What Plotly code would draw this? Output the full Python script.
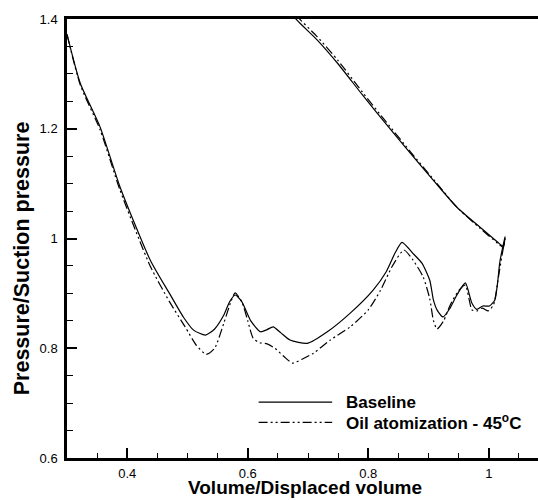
import plotly.graph_objects as go

# Baseline: suction/re-expansion branch (left to right), then compression branch (right to left)
base_x = [0.300, 0.322, 0.355, 0.388, 0.438, 0.470, 0.493, 0.510, 0.530, 0.545, 0.560, 0.570,
          0.579, 0.590, 0.605, 0.621, 0.632, 0.642, 0.655, 0.670, 0.699, 0.732, 0.770, 0.808,
          0.830, 0.845, 0.856, 0.874, 0.889, 0.902, 0.908, 0.914, 0.924, 0.935, 0.947, 0.961,
          0.972, 0.980, 0.990, 1.001, 1.010, 1.015, 1.018, 1.023, 1.027,
          1.024, 1.015, 0.985, 0.947, 0.908, 0.870, 0.830, 0.790, 0.750, 0.715, 0.680, 0.660]
base_y = [1.372, 1.283, 1.203, 1.094, 0.961, 0.900, 0.857, 0.833, 0.824, 0.835, 0.860, 0.885,
          0.897, 0.885, 0.850, 0.830, 0.834, 0.839, 0.828, 0.815, 0.809, 0.830, 0.864, 0.906,
          0.940, 0.975, 0.993, 0.973, 0.955, 0.924, 0.888, 0.870, 0.857, 0.872, 0.897, 0.919,
          0.882, 0.871, 0.877, 0.877, 0.888, 0.924, 0.955, 0.984, 1.003,
          0.986, 0.993, 1.021, 1.057, 1.106, 1.155, 1.208, 1.262, 1.318, 1.362, 1.400, 1.430]

# Oil atomization at 45 degC
oil_x = [0.300, 0.322, 0.355, 0.388, 0.438, 0.470, 0.496, 0.515, 0.531, 0.545, 0.560, 0.572,
         0.579, 0.590, 0.600, 0.609, 0.620, 0.632, 0.645, 0.660, 0.674, 0.690, 0.709, 0.737,
         0.770, 0.800, 0.820, 0.840, 0.859, 0.874, 0.891, 0.902, 0.908, 0.914, 0.925, 0.936,
         0.950, 0.961, 0.972, 0.980, 0.989, 0.999, 1.008, 1.016, 1.022, 1.027,
         1.024, 1.015, 0.985, 0.947, 0.908, 0.870, 0.830, 0.790, 0.750, 0.715, 0.680, 0.660]
oil_y = [1.372, 1.280, 1.198, 1.088, 0.950, 0.885, 0.839, 0.805, 0.789, 0.800, 0.845, 0.885,
         0.901, 0.885, 0.850, 0.818, 0.810, 0.808, 0.800, 0.785, 0.773, 0.780, 0.791, 0.815,
         0.839, 0.870, 0.905, 0.950, 0.979, 0.961, 0.930, 0.890, 0.851, 0.835, 0.850, 0.879,
         0.905, 0.915, 0.870, 0.868, 0.873, 0.868, 0.880, 0.930, 0.970, 1.000,
         0.984, 0.991, 1.019, 1.057, 1.108, 1.158, 1.212, 1.267, 1.324, 1.368, 1.407, 1.437]

series_names = ["Baseline", "Oil atomization - 45<sup>o</sup>C"]
x_ticks = [0.4, 0.6, 0.8, 1.0]
x_tick_text = ["0.4", "0.6", "0.8", "1"]
y_ticks = [0.6, 0.8, 1.0, 1.2, 1.4]
y_tick_text = ["0.6", "0.8", "1", "1.2", "1.4"]

FONT = "Liberation Sans, Arial, sans-serif"
solid = dict(color="black", width=1.2)
dashdotdot = dict(color="black", width=1.2, dash="9px,3px,2px,3px,2px,3px")

fig = go.Figure()
fig.add_trace(go.Scatter(x=base_x, y=base_y, mode="lines", line=dict(**solid, shape="spline", smoothing=0.6),
                         name=series_names[0], showlegend=False))
fig.add_trace(go.Scatter(x=oil_x, y=oil_y, mode="lines", line=dict(**dashdotdot, shape="spline", smoothing=0.6),
                         name=series_names[1], showlegend=False))

# Legend key drawn in data space, lower right of the plot
legend_rows = [(0.702, solid), (0.665, dashdotdot)]
for (ly, style), label in zip(legend_rows, series_names):
    fig.add_shape(type="line", xref="x", yref="y", x0=0.618, x1=0.740, y0=ly, y1=ly, line=style)
    fig.add_annotation(x=0.760, y=ly, xref="x", yref="y", text="<b>%s</b>" % label, showarrow=False,
                       xanchor="left", yanchor="middle", font=dict(family=FONT, size=17, color="black"))

# Axis titles
fig.add_annotation(x=0.505, y=-0.0957, xref="paper", yref="paper", text="<b>Volume/Displaced volume</b>",
                   showarrow=False, xanchor="center", yanchor="bottom",
                   font=dict(family=FONT, size=19, color="black"))
fig.add_annotation(x=-0.0955, y=0.455, xref="paper", yref="paper", text="<b>Pressure/Suction pressure</b>",
                   showarrow=False, xanchor="center", yanchor="middle", textangle=-90,
                   font=dict(family=FONT, size=21.5, color="black"))

axis_common = dict(showgrid=False, zeroline=False, showline=True, linecolor="black", linewidth=2.5,
                   ticks="inside", ticklen=10, tickwidth=2, tickcolor="black",
                   tickfont=dict(family=FONT, size=13, color="black"))

fig.update_xaxes(range=[0.3, 1.0816], tickvals=x_ticks, ticktext=x_tick_text, mirror=True,
                 ticklabelstandoff=2,
                 minor=dict(dtick=0.05, tick0=0.3, ticks="inside", ticklen=5, tickwidth=1, tickcolor="black"),
                 **axis_common)
fig.update_yaxes(range=[0.6, 1.4], tickvals=y_ticks, ticktext=y_tick_text,
                 ticklabelstandoff=4,
                 minor=dict(dtick=0.05, tick0=0.6, ticks="inside", ticklen=6, tickwidth=1, tickcolor="black"),
                 **axis_common)

fig.update_layout(width=538, height=500, margin=dict(l=67, r=0, t=19, b=42),
                  paper_bgcolor="white", plot_bgcolor="white", showlegend=False)

fig.write_html("out.html")
